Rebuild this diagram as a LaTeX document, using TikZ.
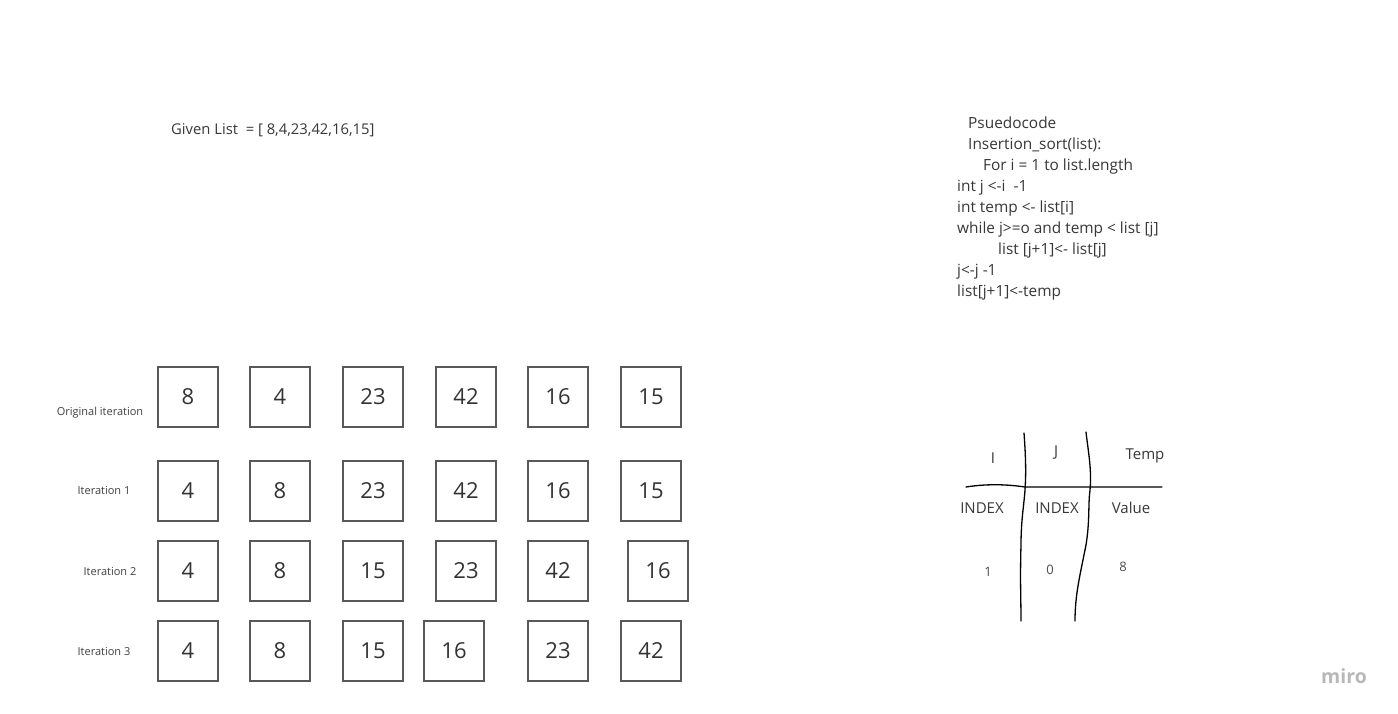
\documentclass[tikz,border=0pt]{standalone}
\usepackage{fontspec}
\setmainfont{Open Sans}
\begin{document}
\begin{tikzpicture}[x=1pt,y=-1pt,
  cell/.style={draw=black!65,line width=1.4pt,minimum width=60pt,minimum height=60pt,inner sep=0pt,text=black!80,font=\fontsize{22}{24}\selectfont},
  rowlbl/.style={text=black!75,font=\fontsize{11}{13}\selectfont,inner sep=0pt},
  txt/.style={text=black!78,font=\fontsize{15}{18}\selectfont,inner sep=0pt},
  code/.style={text=black!78,font=\fontsize{15.4}{18}\selectfont,inner sep=0pt,anchor=base west},
  small/.style={text=black!70,font=\fontsize{13}{15}\selectfont,inner sep=0pt},
  hand/.style={line width=1.3pt,black,line cap=round}]
\useasboundingbox (0,0) rectangle (1398,714);
\fill[white] (0,0) rectangle (1398,714);
% title
\node[txt,anchor=west,font=\fontsize{14.8}{18}\selectfont] (given) at (171,130) {Given List\ \ = [ 8,4,23,42,16,15]};
% pseudocode
\node[code] (p1) at (968,128.5) {Psuedocode};
\node[code] (p2) at (968,149.5) {Insertion\_sort(list):};
\node[code] (p3) at (983,170.5) {For i = 1 to list.length};
\node[code] (p4) at (957,191.5) {int j <-i\ \ -1};
\node[code] (p5) at (957,212.5) {int temp <- list[i]};
\node[code] (p6) at (957,233.5) {while j>=o and temp < list [j]};
\node[code] (p7) at (998,254.5) {list [j+1]<- list[j]};
\node[code] (p8) at (957,275.5) {j<-j -1};
\node[code] (p9) at (957,296.5) {list[j+1]<-temp};
% row labels
\node[rowlbl] (l0) at (100,413) {Original iteration};
\node[rowlbl] (l1) at (104,491) {Iteration 1};
\node[rowlbl] (l2) at (110,572) {Iteration 2};
\node[rowlbl] (l3) at (104,652) {Iteration 3};
% row 0
\node[cell] (a1) at (188,397) {8};
\node[cell] (a2) at (280,397) {4};
\node[cell] (a3) at (373,397) {23};
\node[cell] (a4) at (466,397) {42};
\node[cell] (a5) at (558,397) {16};
\node[cell] (a6) at (651,397) {15};
% row 1
\node[cell] (b1) at (188,491) {4};
\node[cell] (b2) at (280,491) {8};
\node[cell] (b3) at (373,491) {23};
\node[cell] (b4) at (466,491) {42};
\node[cell] (b5) at (558,491) {16};
\node[cell] (b6) at (651,491) {15};
% row 2
\node[cell] (c1) at (188,571) {4};
\node[cell] (c2) at (280,571) {8};
\node[cell] (c3) at (373,571) {15};
\node[cell] (c4) at (466,571) {23};
\node[cell] (c5) at (558,571) {42};
\node[cell] (c6) at (658,571) {16};
% row 3
\node[cell] (d1) at (188,651) {4};
\node[cell] (d2) at (280,651) {8};
\node[cell] (d3) at (373,651) {15};
\node[cell] (d4) at (454,651) {16};
\node[cell] (d5) at (558,651) {23};
\node[cell] (d6) at (651,651) {42};
% table
\draw[hand] (1024,433) .. controls (1026,460) and (1026,475) .. (1025,490)
  .. controls (1024,505) and (1021,520) .. (1021,545)
  .. controls (1020,580) and (1021,600) .. (1021,621);
\draw[hand] (1086,432) .. controls (1088,450) and (1092,470) .. (1090,490)
  .. controls (1088,505) and (1090,520) .. (1086,545)
  .. controls (1080,575) and (1075,595) .. (1075,621);
\draw[hand] (966,487) .. controls (985,484) and (1005,484) .. (1025,487) -- (1162,487);
\node[txt] (ti) at (993,458) {I};
\node[txt] (tj) at (1056,453) {J};
\node[txt] (tt) at (1145,456) {Temp};
\node[txt] (ui) at (982,508) {INDEX};
\node[txt] (uj) at (1057,508) {INDEX};
\node[txt] (ut) at (1131,508) {Value};
\node[small] (vi) at (988,572) {1};
\node[small] (vj) at (1050,570) {0};
\node[small] (vt) at (1123,567) {8};
% logo
\node[text=black!28,font=\bfseries\fontsize{19.5}{20}\selectfont,inner sep=0pt] (logo) at (1344,676) {miro};
\end{tikzpicture}
\end{document}
